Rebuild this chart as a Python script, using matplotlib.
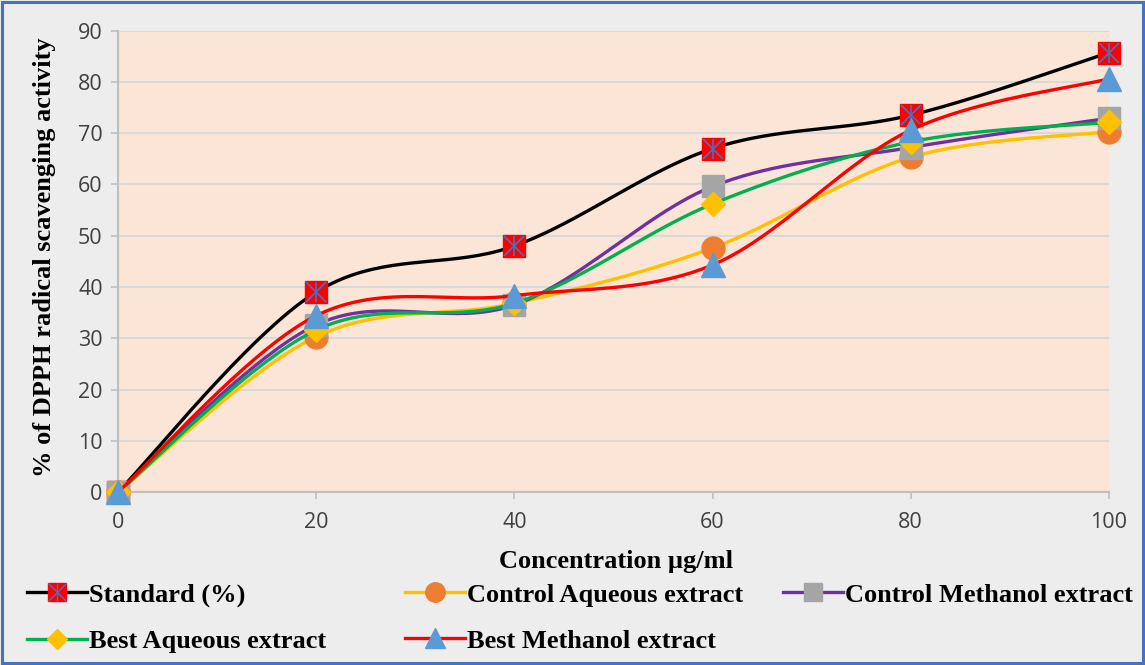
import matplotlib
matplotlib.use("Agg")
import matplotlib.pyplot as plt
from matplotlib.lines import Line2D
from matplotlib.patches import Rectangle
from matplotlib.legend_handler import HandlerTuple
import numpy as np

# data
conc = [0, 20, 40, 60, 80, 100]
standard = [0, 39, 48, 67, 73.5, 85.7]
control_aq = [0, 30.3, 36.8, 47.6, 65.3, 70.3]
control_me = [0, 32.6, 36.5, 59.6, 67.2, 72.9]
best_aq = [0, 31.6, 36.8, 56.2, 68.3, 72.1]
best_me = [0, 34.4, 38.3, 44.3, 70.6, 80.6]

labels = ["Standard (%)", "Control Aqueous extract", "Control Methanol extract",
          "Best Aqueous extract", "Best Methanol extract"]


def smooth(x, y, n=40):
    # Excel-like smoothed line (Catmull-Rom as cubic Bezier)
    p = np.column_stack([x, y]).astype(float)
    pts = [p[0]]
    for i in range(len(p) - 1):
        p0 = p[i - 1] if i > 0 else p[i]
        p3 = p[i + 2] if i + 2 < len(p) else p[i + 1]
        c1 = p[i] + (p[i + 1] - p0) / 6
        c2 = p[i + 1] - (p3 - p[i]) / 6
        t = np.linspace(0, 1, n)[1:, None]
        b = ((1 - t) ** 3 * p[i] + 3 * (1 - t) ** 2 * t * c1
             + 3 * (1 - t) * t ** 2 * c2 + t ** 3 * p[i + 1])
        pts.extend(b)
    pts = np.array(pts)
    return pts[:, 0], pts[:, 1]


fig = plt.figure(figsize=(11.45, 6.65), dpi=100, facecolor="#EDEDED")
fig.patches.append(Rectangle((0.002, 0.003), 0.996, 0.994, transform=fig.transFigure,
                             fill=False, edgecolor="#4472C4", lw=2.2))
ax = fig.add_axes([0.103, 0.260, 0.8655, 0.694])
ax.set_facecolor("#FBE5D6")

lw = 2.4
series = [
    (standard, "black", dict(marker="s", ms=15.5, mfc="#FF0000", mec="#FF0000")),
    (control_aq, "#FFC000", dict(marker="o", ms=16.5, mfc="#ED7D31", mec="#ED7D31")),
    (control_me, "#7030A0", dict(marker="s", ms=15.5, mfc="#A5A5A5", mec="#A5A5A5")),
    (best_aq, "#00B050", dict(marker="D", ms=12, mfc="#FFC000", mec="#FFC000")),
    (best_me, "#FF0000", dict(marker="^", ms=17, mfc="#5B9BD5", mec="#5B9BD5")),
]

handles = []
for k, (vals, col, mk) in enumerate(series):
    sx, sy = smooth(conc, vals)
    ax.plot(sx, sy, color=col, lw=lw, zorder=3 + 2 * k, solid_capstyle="round")
    ax.plot(conc, vals, ls="none", zorder=4 + 2 * k, clip_on=False, **mk)
    if k == 0:
        ax.plot(conc, vals, ls="none", marker="x", ms=15, mew=1.2, mec="#4472C4",
                zorder=4.5, clip_on=False)
        ax.plot(conc, vals, ls="none", marker="|", ms=15, mew=1.2, mec="#4472C4",
                zorder=4.5, clip_on=False)
    lmk = dict(mk)
    lmk["ms"] = mk["ms"] * 0.85
    handles.append(Line2D([], [], color=col, lw=lw, **lmk))

# standard legend handle with the blue cross on the square
std_h = (handles[0],
         Line2D([], [], ls="none", marker="x", ms=13, mew=1.0, mec="#4472C4"),
         Line2D([], [], ls="none", marker="|", ms=13, mew=1.0, mec="#4472C4"))

ax.set_xlim(0, 100)
ax.set_ylim(0, 90)
ax.set_xticks(conc)
ax.set_yticks(np.arange(0, 91, 10))
ax.grid(axis="y", color="#D9D9D9", lw=1.5, zorder=0)
ax.set_axisbelow(True)
for s in ["top", "right"]:
    ax.spines[s].set_visible(False)
ax.spines["left"].set_color("#BFBFBF")
ax.spines["bottom"].set_color("#BFBFBF")
ax.spines["left"].set_linewidth(1.5)
ax.spines["bottom"].set_linewidth(1.5)
ax.tick_params(axis="both", color="#BFBFBF", length=5, width=1.2,
               labelsize=15.5, labelcolor="#404040")
ax.tick_params(axis="x", pad=9)
ax.tick_params(axis="y", pad=6)
for t in ax.get_xticklabels() + ax.get_yticklabels():
    t.set_family("Open Sans")

serif = dict(family="Liberation Serif", weight="bold", fontsize=19)
ax.set_ylabel("% of DPPH radical scavenging activity", **serif)
ax.yaxis.set_label_coords(-0.063, 0.51)
fig.text(0.538, 0.156, "Concentration µg/ml", ha="center", va="center", **serif)

leg_kw = dict(frameon=False, prop=dict(family="Liberation Serif", weight="bold", size=19),
              handlelength=2.25, handletextpad=0.08, labelspacing=0.85, loc="upper left",
              borderaxespad=0, borderpad=0,
              handler_map={tuple: HandlerTuple(ndivide=1, pad=0)})
fig.legend([std_h, handles[3]], [labels[0], labels[3]],
           bbox_to_anchor=(0.024, 0.123), **leg_kw)
fig.legend([handles[1], handles[4]], [labels[1], labels[4]],
           bbox_to_anchor=(0.354, 0.123), **leg_kw)
fig.legend([handles[2]], [labels[2]],
           bbox_to_anchor=(0.684, 0.123), **leg_kw)

fig.savefig("out.png", dpi=100, facecolor=fig.get_facecolor())
